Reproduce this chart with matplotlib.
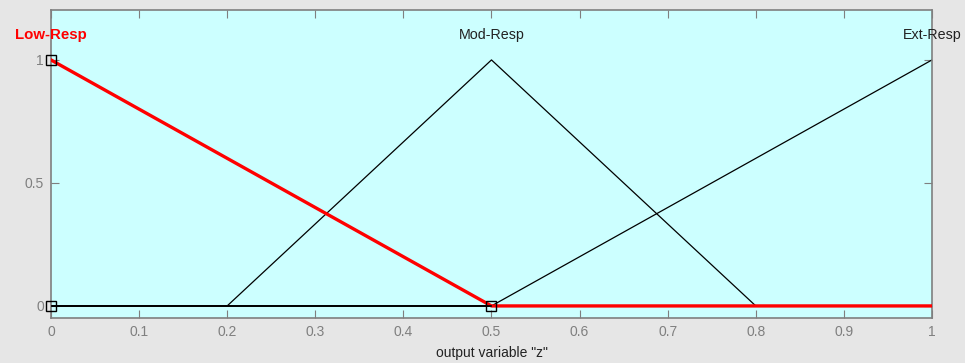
import numpy as np
import matplotlib
matplotlib.use("Agg")
import matplotlib.pyplot as plt

plt.rcParams['font.family'] = ['Liberation Sans', 'DejaVu Sans']

# membership functions (trimf vertices)
mf_names = ["Low-Resp", "Mod-Resp", "Ext-Resp"]
mf_x = [[0, 0.5, 1], [0, 0.2, 0.5, 0.8, 1], [0, 0.5, 1]]
mf_y = [[1, 0, 0], [0, 0, 1, 0, 0], [0, 0, 1]]
label_x = [0, 0.5, 1]
selected = 0  # Low-Resp is highlighted

xticks = [0, 0.1, 0.2, 0.3, 0.4, 0.5, 0.6, 0.7, 0.8, 0.9, 1]
xticklabels = ["0", "0.1", "0.2", "0.3", "0.4", "0.5", "0.6", "0.7", "0.8", "0.9", "1"]
yticks = [0, 0.5, 1]
yticklabels = ["0", "0.5", "1"]

fig = plt.figure(figsize=(9.65, 3.63), dpi=100, facecolor="#e6e6e6")
ax = fig.add_axes([0.0528, 0.124, 0.913, 0.8485])
ax.set_facecolor("#ccffff")

# black baseline + unselected functions
for i in range(len(mf_names)):
    if i != selected:
        ax.plot(mf_x[i], mf_y[i], color="black", lw=0.9, zorder=2)
ax.plot([0, 1], [0, 0], color="black", lw=1.2, zorder=2)
ax.plot(mf_x[selected], mf_y[selected], color="#ff0000", lw=2.4, zorder=3)
ax.plot([mf_x[selected][0], mf_x[selected][1]], [0, 0], color="black", lw=1.2, zorder=3)

# vertex handles of the selected function
ax.plot([0, 0, 0.5], [1, 0, 0], ls="none", marker="s", ms=7,
        mfc="none", mec="black", mew=1.0, zorder=4, clip_on=False)

for i, name in enumerate(mf_names):
    if i == selected:
        ax.text(label_x[i], 1.10, name, color="#ff0000", fontsize=10.8,
                fontweight="bold", ha="center", va="center", clip_on=False)
    else:
        ax.text(label_x[i], 1.10, name, color="#222222", fontsize=10.3,
                ha="center", va="center", clip_on=False)

ax.set_xlim(0, 1)
ax.set_ylim(-0.049, 1.203)
ax.set_xticks(xticks)
ax.set_xticklabels(xticklabels)
ax.set_yticks(yticks)
ax.set_yticklabels(yticklabels)
ax.tick_params(direction="in", length=6, color="#7f7f7f", labelcolor="#7f7f7f",
               labelsize=10, top=True, right=True, pad=5)
for s in ax.spines.values():
    s.set_color("#7f7f7f")
    s.set_linewidth(1.2)
ax.set_xlabel('output variable "z"', fontsize=10, color="#222222", labelpad=5)

fig.savefig("out.png", dpi=100, facecolor=fig.get_facecolor())
